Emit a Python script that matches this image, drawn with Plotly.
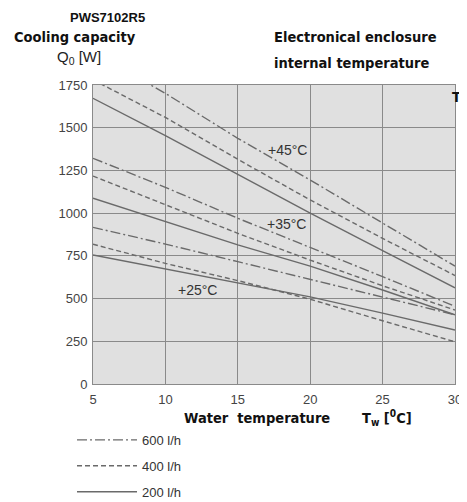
import plotly.graph_objects as go

# Water temperature [°C]
water_temp = [5, 10, 15, 20, 25, 30]

# Cooling capacity Q0 [W] per enclosure internal temperature and flow rate
q_25_200 = [755, 673, 590, 510, 415, 316]
q_25_400 = [818, 706, 605, 496, 370, 247]
q_25_600 = [917, 819, 716, 612, 510, 405]
q_35_200 = [1087, 950, 814, 690, 550, 405]
q_35_400 = [1217, 1048, 882, 725, 575, 433]
q_35_600 = [1321, 1151, 970, 800, 628, 455]
q_45_200 = [1672, 1453, 1227, 1000, 781, 563]
q_45_400 = [1780, 1560, 1315, 1077, 852, 635]
q_45_600 = [1940, 1701, 1438, 1194, 942, 690]

temp_labels = ["+45°C", "+35°C", "+25°C"]
label_x = [18.45, 18.35, 12.2]
label_y = [1370, 935, 550]

line_col = "#6a6a6a"
dash_600 = "10px,3px,2px,3px"
dash_400 = "5px,3px"
dash_200 = "solid"

series = [
    (q_45_600, dash_600, "600 l/h"), (q_45_400, dash_400, "400 l/h"), (q_45_200, dash_200, "200 l/h"),
    (q_35_600, dash_600, "600 l/h"), (q_35_400, dash_400, "400 l/h"), (q_35_200, dash_200, "200 l/h"),
    (q_25_600, dash_600, "600 l/h"), (q_25_400, dash_400, "400 l/h"), (q_25_200, dash_200, "200 l/h"),
]

fig = go.Figure()
shown = set()
for vals, dash, name in series:
    fig.add_trace(go.Scatter(x=water_temp, y=vals, mode="lines", name=name,
                             line=dict(color=line_col, width=1.4, dash=dash),
                             legendgroup=name, showlegend=name not in shown))
    shown.add(name)

for t, lx, ly in zip(temp_labels, label_x, label_y):
    fig.add_annotation(x=lx, y=ly, text=t, showarrow=False,
                       font=dict(family="Liberation Sans", size=14, color="#333"))

cond = "Liberation Sans Narrow, DejaVu Sans Condensed, DejaVu Sans"
bold = dict(family=cond, size=14.5, color="#111")
texts = [
    ("<b>PWS7102R5</b>", -0.069, 1.227, dict(family="Liberation Sans", size=13, color="#111")),
    ("<b>Cooling capacity</b>", -0.224, 1.160, bold),
    ("Q<sub>0</sub> [W]", -0.105, 1.092, dict(family="Liberation Sans", size=15, color="#222")),
    ("<b>Electronical enclosure</b>", 0.494, 1.160, bold),
    ("<b>internal temperature</b>", 0.494, 1.073, bold),
    ("<b>T</b>", 0.985, 0.960, bold),
    ("<b>Water  temperature</b>", 0.246, -0.114, bold),
    ("<b>T<sub>w</sub> [<sup>0</sup>C]</b>", 0.737, -0.114, bold),
]
for txt, px, py, f in texts:
    fig.add_annotation(x=px, y=py, xref="paper", yref="paper", text=txt, showarrow=False,
                       xanchor="left", yanchor="middle", font=f)

axis_common = dict(showgrid=True, gridcolor="#8a8a8a", gridwidth=1, showline=True,
                   linecolor="#8a8a8a", linewidth=1, mirror=True, zeroline=False,
                   tickfont=dict(family="Liberation Sans", size=13, color="#444"))

fig.update_xaxes(range=[5, 30], tickvals=[5, 10, 15, 20, 25, 30],
                 ticklabelstandoff=3, **axis_common)
fig.update_yaxes(range=[0, 1750], tickvals=[0, 250, 500, 750, 1000, 1250, 1500, 1750],
                 ticklabelstandoff=2, **axis_common)

# page body adds an 8px margin, so the figure is 8px smaller and margins shifted
fig.update_layout(
    width=459, height=494,
    margin=dict(l=85, r=12, t=77, b=118, autoexpand=False),
    plot_bgcolor="#e0e0e0", paper_bgcolor="white",
    legend=dict(x=-0.058, y=-0.137, xanchor="left", yanchor="top", tracegroupgap=6,
                itemwidth=60,
                font=dict(family="Liberation Sans", size=13, color="#333"),
                bgcolor="rgba(0,0,0,0)"),
)

fig.write_html("out.html")
